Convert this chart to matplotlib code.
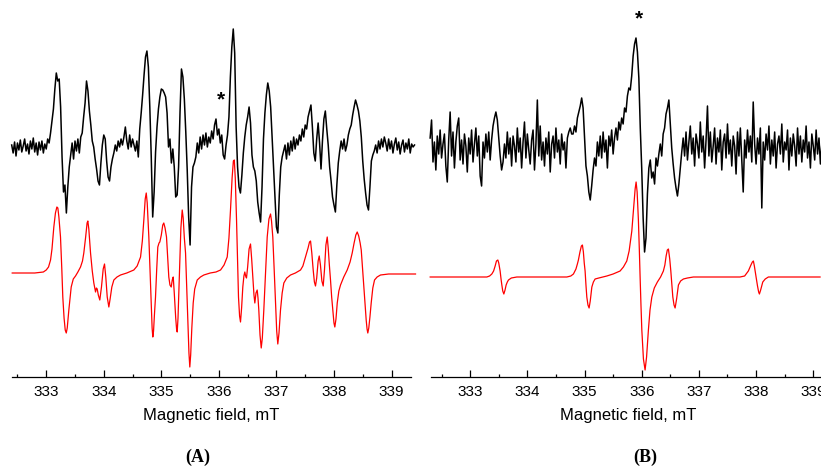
import numpy as np
import matplotlib
matplotlib.use('Agg')
import matplotlib.pyplot as plt
from matplotlib.ticker import MultipleLocator

# (A) experimental spectrum, field grid 332.40 .. 339.40 mT, step 0.025 mT
field_a = np.linspace(332.40, 339.40, 281)
exp_a = [
    2, -6, 5, -9, 4, -3, 7, -5, 1, 8, -4, 3, -7, 6, -2, 9, -5, 4, -8, 5,
    -3, 6, -6, 3, -2, 8, 4, 14, 26, 38, 58, 74, 66, 68, 40, -10, -45, -38, -66, -40,
    -20, -8, 4, -12, 6, -4, 8, -6, 10, 14, 30, 44, 66, 56, 36, 22, 6, 0, -12, -22,
    -34, -38, -16, 2, 12, 8, -14, -30, -34, -20, -12, -6, 2, -4, 6, 0, 8, 2, 10, 20,
    6, -2, 12, 0, 8, 2, -4, 6, -10, 18, 34, 52, 72, 90, 96, 80, 40, -10, -70, -45,
    -5, 20, 38, 50, 58, 57, 54, 50, 34, 0, 8, -16, -2, -20, -50, -48, -20, 35, 78, 70,
    48, 15, -23, -70, -98, -40, -20, -16, -10, 4, -6, 10, -2, 12, 2, 14, 0, 10, 4, 16,
    8, 22, 28, 12, 18, 4, 12, -8, -12, 2, 12, 30, 70, 100, 118, 94, 20, -20, -40, -46,
    -28, -6, 10, 22, 30, 40, 24, -8, -20, -24, -34, -55, -66, -75, -40, 8, 34, 52, 64, 56,
    40, 10, -20, -50, -80, -86, -48, -20, -10, -4, 2, -12, 4, -8, 6, -4, 10, -2, 8, 2,
    12, 6, 18, 10, 22, 18, 30, 36, 42, 20, -6, -14, 8, 24, 4, -22, 6, 28, 36, 18,
    2, -20, -34, -50, -58, -65, -38, -16, -4, 6, -2, 8, -4, 2, 12, 18, 22, 32, 40, 47,
    42, 36, 26, 10, -14, -32, -46, -58, -63, -40, -14, -8, -4, 2, -6, 6, -2, 8, 0, 10,
    4, -4, 8, -2, 6, -6, 3, 9, -3, 5, -7, 2, 7, -5, 4, -2, 8, -6, 3, 0,
    2,
]

# (A) simulated spectrum
sim_a_field = [
    332.409, 332.800, 332.950, 333.000, 333.040, 333.075, 333.100, 333.132, 333.160, 333.185,
    333.202, 333.220, 333.248, 333.270, 333.288, 333.310, 333.330, 333.348, 333.365, 333.393,
    333.434, 333.470, 333.509, 333.550, 333.596, 333.630, 333.653, 333.685, 333.710, 333.723,
    333.740, 333.770, 333.800, 333.827, 333.857, 333.872, 333.886, 333.905, 333.931, 333.960,
    333.990, 334.013, 334.035, 334.060, 334.088, 334.110, 334.140, 334.175, 334.230, 334.291,
    334.400, 334.522, 334.580, 334.639, 334.670, 334.696, 334.720, 334.738, 334.755, 334.783,
    334.805, 334.825, 334.840, 334.852, 334.865, 334.880, 334.899, 334.920, 334.939, 334.960,
    334.974, 335.000, 335.025, 335.043, 335.065, 335.090, 335.110, 335.130, 335.150, 335.172,
    335.190, 335.207, 335.225, 335.250, 335.265, 335.276, 335.290, 335.316, 335.340, 335.363,
    335.380, 335.400, 335.421, 335.440, 335.460, 335.480, 335.495, 335.510, 335.530, 335.554,
    335.580, 335.624, 335.680, 335.739, 335.850, 335.950, 336.029, 336.090, 336.145, 336.175,
    336.202, 336.230, 336.252, 336.268, 336.285, 336.307, 336.325, 336.341, 336.360, 336.376,
    336.395, 336.416, 336.435, 336.451, 336.465, 336.480, 336.500, 336.525, 336.550, 336.570,
    336.590, 336.610, 336.625, 336.645, 336.666, 336.680, 336.694, 336.715, 336.736, 336.755,
    336.781, 336.810, 336.840, 336.870, 336.898, 336.915, 336.937, 336.960, 336.984, 337.005,
    337.024, 337.045, 337.071, 337.100, 337.129, 337.180, 337.245, 337.330, 337.419, 337.460,
    337.506, 337.550, 337.575, 337.593, 337.615, 337.639, 337.660, 337.679, 337.700, 337.725,
    337.744, 337.765, 337.790, 337.813, 337.835, 337.860, 337.883, 337.900, 337.920, 337.940,
    337.960, 337.980, 338.000, 338.015, 338.035, 338.057, 338.085, 338.114, 338.170, 338.230,
    338.280, 338.317, 338.350, 338.380, 338.404, 338.430, 338.455, 338.474, 338.500, 338.531,
    338.560, 338.575, 338.588, 338.605, 338.625, 338.647, 338.675, 338.705, 338.750, 338.809,
    338.950, 339.417,
]
sim_a_int = [
    0, 0, 1, 3, 6, 13, 24, 46, 60, 66,
    65, 56, 36, 5, -24, -45, -57, -60, -55, -37,
    -14, -6, -3, 1, 6, 12, 20, 36, 50, 52,
    44, 20, 2, -10, -19, -15, -16, -22, -27, -14,
    4, 9, -4, -24, -34, -26, -14, -7, -4, -2,
    0, 3, 7, 16, 32, 53, 74, 80, 70, 36,
    0, -30, -55, -64, -58, -42, -24, 4, 26, 30,
    31, 38, 48, 50, 45, 36, 16, -4, -12, -14,
    -7, -4, -20, -45, -56, -59, -45, 3, 45, 63,
    55, 35, 20, -12, -47, -80, -94, -82, -55, -30,
    -16, -7, -4, -2, 0, 1, 3, 8, 16, 35,
    63, 95, 112, 113, 95, 53, 10, -24, -43, -49,
    -35, -14, -3, 1, -3, -5, 6, 24, 29, 14,
    -4, -22, -30, -20, -17, -25, -37, -62, -75, -65,
    -37, 0, 36, 54, 59, 52, 36, 5, -30, -58,
    -71, -60, -37, -20, -10, -5, -2, 0, 3, 7,
    16, 25, 31, 32, 20, 3, -9, -13, -5, 12,
    17, 8, -8, -13, 3, 28, 36, 25, 8, -7,
    -24, -37, -50, -54, -46, -30, -18, -12, -4, 3,
    11, 20, 30, 38, 41, 37, 30, 23, 2, -24,
    -47, -56, -60, -55, -44, -30, -15, -7, -4, -2,
    -1, -1,
]

# (B) experimental spectrum, field grid 332.30 .. 339.15 mT, step 0.025 mT
field_b = np.linspace(332.30, 339.15, 275)
exp_b = [
    10, 28, -14, 6, -22, 12, -6, 18, -10, 4, 14, -18, -34, 8, 36, -8, 16, -20, 6, 22,
    30, -12, 8, -16, 14, 2, -24, 10, -6, 18, -14, 4, 20, -8, 12, -28, -38, 6, -10, 14,
    -4, 16, -12, 8, 22, 30, 36, 28, 10, -8, -22, -14, 4, -10, 16, -6, 10, -18, 12, 2,
    -14, 20, -4, 10, -20, 6, 26, -10, 14, -2, -16, 8, 18, -22, 4, 48, -8, 22, -12, 6,
    -18, 10, -6, 16, -24, 4, 12, -10, 20, -4, 8, -16, 14, -2, 6, -20, 10, 16, 20, 14,
    14, 22, 16, 30, 36, 42, 50, 40, 10, -18, -28, -44, -52, -38, -22, -10, -18, 6, -8, 12,
    -10, 16, -4, 8, -20, 12, 2, 18, -6, 10, 20, 8, 26, 18, 30, 24, 40, 36, 52, 60,
    58, 72, 92, 104, 110, 96, 70, 20, -20, -70, -104, -90, -46, -20, -12, -30, -24, -36, -10, -18,
    -6, 4, -8, 14, 20, 34, 40, 48, 24, 0, -16, -30, -40, -48, -36, -20, -4, 10, -8, 16,
    -12, 6, 22, -6, 10, -18, 14, 4, -10, 26, -4, 12, -20, 8, 42, -8, 16, -14, 2, 20,
    -16, 10, -4, 18, -22, 6, 14, -10, 24, -6, 8, -18, 12, 2, -26, 16, -8, 20, -12, -44,
    8, -10, 18, -4, 12, -14, 46, 4, -16, 10, -6, 20, -60, 6, -12, 14, -2, 22, -16, 8,
    -8, 16, -20, 4, 12, -6, 24, -14, 6, -2, 18, -22, 10, -8, 14, 2, -18, 20, -6, 12,
    -14, 8, -4, 22, -10, 6, -20, 14, 2, -12, 18, -6, 10, -16, 4,
]

# (B) simulated spectrum
sim_b_field = [
    332.301, 333.250, 333.292, 333.340, 333.379, 333.410, 333.437, 333.460, 333.484, 333.500,
    333.524, 333.540, 333.554, 333.570, 333.589, 333.610, 333.629, 333.650, 333.670, 333.720,
    333.816, 334.691, 334.760, 334.806, 334.850, 334.875, 334.893, 334.920, 334.945, 334.963,
    334.980, 334.995, 335.010, 335.025, 335.040, 335.060, 335.080, 335.100, 335.128, 335.155,
    335.185, 335.250, 335.390, 335.500, 335.622, 335.680, 335.739, 335.780, 335.827, 335.860,
    335.885, 335.902, 335.920, 335.942, 335.958, 335.972, 335.987, 336.002, 336.030, 336.059,
    336.085, 336.117, 336.145, 336.177, 336.220, 336.274, 336.330, 336.379, 336.405, 336.427,
    336.448, 336.467, 336.490, 336.509, 336.525, 336.544, 336.565, 336.584, 336.610, 336.642,
    336.680, 336.729, 336.800, 336.904, 337.720, 337.800, 337.865, 337.910, 337.935, 337.953,
    337.970, 338.000, 338.025, 338.045, 338.058, 338.080, 338.117, 338.160, 338.215, 339.119,
]
sim_b_int = [
    0, 0, 0, 1, 3, 6, 11, 16, 17, 14,
    6, -2, -8, -14, -17, -13, -8, -5, -3, -1,
    0, 0, 1, 3, 8, 13, 17, 25, 31, 32,
    25, 14, 6, -8, -20, -28, -31, -24, -10, -5,
    -2, -1, 1, 3, 6, 10, 16, 26, 46, 70,
    88, 95, 85, 57, 28, 0, -28, -53, -82, -93,
    -80, -53, -33, -20, -11, -5, 0, 6, 12, 21,
    27, 28, 18, 6, -6, -20, -28, -31, -22, -8,
    -4, -2, -1, 0, 0, 1, 6, 12, 15, 16,
    11, 0, -9, -15, -17, -13, -5, -2, 0, 0,
]

plt.rcParams['font.family'] = ['Liberation Sans', 'DejaVu Sans']

fig = plt.figure(figsize=(8.21, 4.66), dpi=100)
W, H = 821.0, 466.0
ax_a = fig.add_axes([11.7 / W, 1 - 377 / H, 398.8 / W, 357 / H])
ax_b = fig.add_axes([430.7 / W, 1 - 377 / H, 394.0 / W, 357 / H])


def style_axis(ax, xlim):
    ax.set_xlim(*xlim)
    ax.set_ylim(0, 357)
    for s in ('top', 'left', 'right'):
        ax.spines[s].set_visible(False)
    ax.spines['bottom'].set_linewidth(0.9)
    ax.set_yticks([])
    ax.xaxis.set_major_locator(MultipleLocator(1))
    ax.xaxis.set_minor_locator(MultipleLocator(0.5))
    ax.tick_params(axis='x', which='major', direction='in', length=5, width=0.9,
                   labelsize=11, pad=6)
    ax.tick_params(axis='x', which='minor', direction='in', length=2.5, width=0.9)
    ax.set_xlabel('Magnetic field, mT', fontsize=12, labelpad=6)
    ax.patch.set_visible(False)


# panel A
ax_a.plot(field_a, np.array(exp_a) + 230, color='black', lw=1.1, clip_on=False)
ax_a.plot(sim_a_field, np.array(sim_a_int) + 104, color='red', lw=0.9, clip_on=False)
ax_a.text(336.03, 277, '*', fontsize=15, fontweight='bold', ha='center', va='center')
style_axis(ax_a, (332.40, 339.33))

# panel B
ax_b.plot(field_b, np.array(exp_b) + 229, color='black', lw=1.1, clip_on=False)
ax_b.plot(sim_b_field, np.array(sim_b_int) + 100, color='red', lw=0.9, clip_on=False)
ax_b.text(335.95, 358, '*', fontsize=15, fontweight='bold', ha='center', va='center',
          clip_on=False)
style_axis(ax_b, (332.31, 339.2))

fig.text(198 / W, 1 - 457 / H, '(A)', fontsize=13, fontweight='bold',
         family='Liberation Serif', ha='center', va='center')
fig.text(645 / W, 1 - 457 / H, '(B)', fontsize=13, fontweight='bold',
         family='Liberation Serif', ha='center', va='center')

fig.savefig('out.png', dpi=100)
